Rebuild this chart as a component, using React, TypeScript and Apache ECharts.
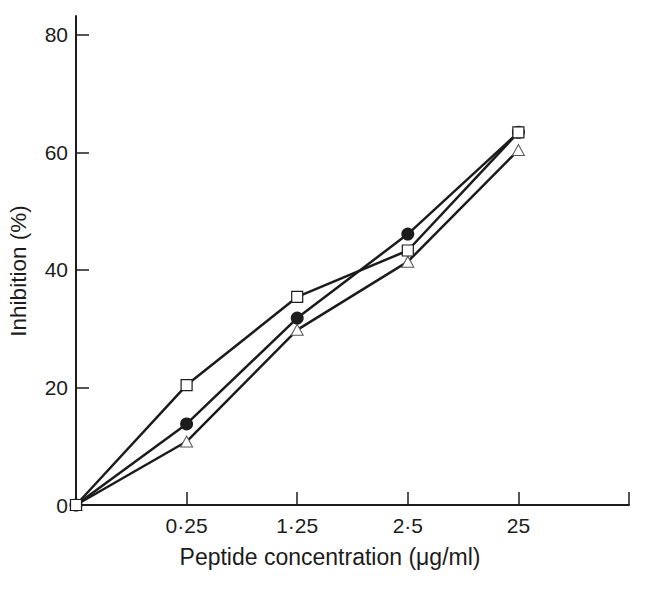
import React, { useEffect, useRef } from "react";
import * as echarts from "echarts";

const xPositions = [0, 1, 2, 3, 4];
const xTickLabels = ["", "0·25", "1·25", "2·5", "25"];
const squareValues = [0, 20.4, 35.4, 43.3, 63.4];
const circleValues = [0, 13.8, 31.8, 46.1, 63.4];
const triangleValues = [0, 10.8, 29.8, 41.4, 60.4];
const yTicks = [0, 20, 40, 60, 80];

const FONT = "'Liberation Sans', Arial, Helvetica, sans-serif";
const INK = "#1c1c1c";

export default function App() {
  const ref = useRef<HTMLDivElement>(null);
  useEffect(() => {
    if (!ref.current) return;
    const chart = echarts.init(ref.current, null, { renderer: "svg" });
    const pts = (vals: number[]) => xPositions.map((x, i) => [x, vals[i]]);
    chart.setOption({
      animation: false,
      grid: { left: 76, right: 23, top: 16, bottom: 85, containLabel: false },
      xAxis: {
        type: "value",
        min: 0,
        max: 5,
        axisLine: { show: true, onZero: false, lineStyle: { color: INK, width: 2 } },
        axisTick: { show: true, inside: true, length: 13, lineStyle: { color: INK, width: 1.5 }, customValues: [1, 2, 3, 4, 5] },
        axisLabel: {
          customValues: [1, 2, 3, 4],
          formatter: (v: number) => xTickLabels[Math.round(v)] ?? "",
          color: INK,
          fontFamily: FONT,
          fontSize: 21,
          margin: 10,
        },
        splitLine: { show: false },
      },
      yAxis: {
        type: "value",
        min: 0,
        max: 83.2,
        axisLine: { show: true, lineStyle: { color: INK, width: 2 } },
        axisTick: { show: true, inside: true, length: 13, lineStyle: { color: INK, width: 1.5 }, customValues: yTicks.slice(1) },
        axisLabel: {
          customValues: yTicks,
          color: INK,
          fontFamily: FONT,
          fontSize: 21,
          margin: 8,
        },
        splitLine: { show: false },
      },
      graphic: [
        {
          type: "text",
          x: 330,
          y: 557,
          style: {
            text: "Peptide concentration (μg/ml)",
            font: `23px ${FONT}`,
            fill: INK,
            align: "center",
            verticalAlign: "middle",
          },
        },
        {
          type: "text",
          x: 18,
          y: 271,
          rotation: Math.PI / 2,
          style: {
            text: "Inhibition (%)",
            font: `22.5px ${FONT}`,
            fill: INK,
            align: "center",
            verticalAlign: "middle",
          },
        },
      ],
      series: [
        {
          type: "line",
          data: pts(triangleValues),
          symbol: "triangle",
          symbolSize: [12, 11],
          itemStyle: { color: "#ffffff", borderColor: "#555", borderWidth: 1 },
          lineStyle: { color: INK, width: 2.5 },
          z: 2,
        },
        {
          type: "line",
          data: pts(circleValues),
          symbol: "circle",
          symbolSize: 13,
          itemStyle: { color: INK, borderColor: INK, borderWidth: 0 },
          lineStyle: { color: INK, width: 2.5 },
          z: 3,
        },
        {
          type: "line",
          data: pts(squareValues),
          symbol: "rect",
          symbolSize: 11,
          itemStyle: { color: "#ffffff", borderColor: INK, borderWidth: 1.2 },
          lineStyle: { color: INK, width: 2.5 },
          z: 4,
        },
      ],
    });
    return () => chart.dispose();
  }, []);
  return <div ref={ref} style={{ width: 652, height: 590, position: "absolute", left: 0, top: 0, background: "#fff" }} />;
}
